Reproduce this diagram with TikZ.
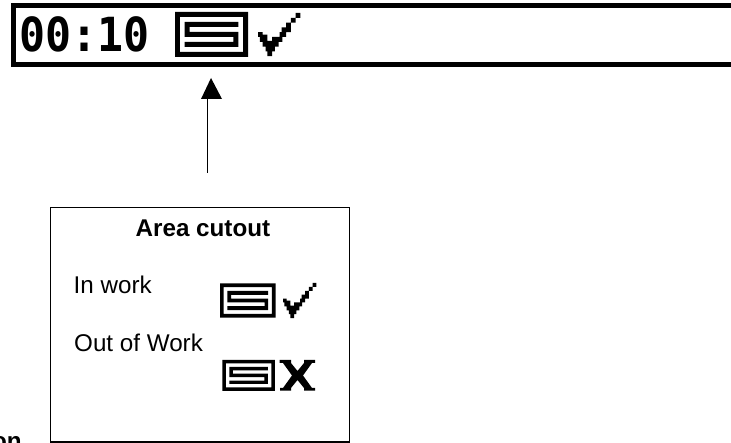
\documentclass[tikz,border=0pt]{standalone}
\usepackage{fontspec}
\setmainfont{Liberation Sans}
\newfontfamily\lcdfont{DejaVu Sans Mono}[FakeStretch=0.92]

\tikzset{
  label/.style={anchor=base west,inner sep=0pt,font=\fontsize{24.2}{26}\selectfont},
  boldlabel/.style={label,font=\fontsize{24.2}{26}\selectfont\bfseries},
  lcdtext/.style={anchor=base west,inner sep=0pt,font=\fontsize{47}{50}\lcdfont\bfseries}
}

% frame and S-shaped loop on a 15 by 9 grid
\newcommand{\cutouticon}[4]{
  \begin{scope}[shift={(#1,#2)},xscale=#3,yscale=#4]
  \fill[even odd rule] (0,0) rectangle (15,9) (1,1) rectangle (14,8);
  \fill (2,2) -- (13,2) -- (13,3) -- (3,3) -- (3,4) -- (13,4) -- (13,7)
    -- (2,7) -- (2,6) -- (12,6) -- (12,5) -- (2,5) -- cycle;
  \end{scope}
}

% stepped tick on a 9 by 9 grid
\newcommand{\tickicon}[4]{
  \begin{scope}[shift={(#1,#2)},xscale=#3,yscale=#4]
  \fill (8,0) -- (9,0) -- (9,1) -- (8,1) -- (8,2) -- (7,2) -- (7,4) -- (6,4)
    -- (6,5) -- (5.2,5) -- (5.2,6) -- (4.4,6) -- (4.4,7) -- (3.6,7) -- (3.6,8)
    -- (3,8) -- (3,9) -- (2,9) -- (2,8) -- (1.6,8) -- (1.6,7) -- (1,7) -- (1,6)
    -- (0.4,6) -- (0.4,5) -- (0,5) -- (0,4) -- (1,4) -- (1,4.5) -- (2,4.5)
    -- (2,5.8) -- (3,5.8) -- (3,5) -- (4.6,5) -- (4.6,4) -- (5,4) -- (5,3)
    -- (6,3) -- (6,2) -- (7,2) -- (7,1) -- (8,1) -- cycle;
  \end{scope}
}

\begin{document}
\begin{tikzpicture}[x=1pt,y=-1pt]

    \useasboundingbox (0,0) rectangle (731,443);

    %display bar
    \draw[line width=5.3pt] (731,5.5) -- (13.5,5.5) -- (13.5,64.5) -- (731,64.5);
    \node[lcdtext] (clock) at (19.5,52) {00:10};
    \cutouticon{175}{12}{4.87}{5}
    \tickicon{258}{13}{4.7}{4.8}

    %box with the legend
    \node[draw,line width=1.5pt,minimum width=299pt,minimum height=234.5pt] (legend) at (200,324.7) {};
    \node[boldlabel] (title) at (135.5,236.7) {Area cutout};
    \node[label] (inwork) at (73.5,294) {In work};
    \node[label] (outwork) at (74,351.7) {Out of Work};

    %in work icon
    \cutouticon{220}{283.3}{3.71}{3.82}
    \tickicon{283}{283}{3.7}{3.9}

    %out of work icon
    \cutouticon{222.3}{360}{3.5}{3.42}
    \fill (279.5,360) -- (291,360) -- (291,363) -- (297.5,371) -- (304,363)
      -- (304,360) -- (315,360) -- (315,363) -- (312,363) -- (303,375.5) -- (312,388)
      -- (315,388) -- (315,390.7) -- (304,390.7) -- (304,388) -- (297.5,380) -- (291,388)
      -- (291,390.7) -- (280,390.7) -- (280,388) -- (283,388) -- (292,375.5) -- (283,363)
      -- (279.5,363) -- cycle;

    %arrow up to the display
    \coordinate (stemfoot) at (207.3,173);
    \coordinate (stemhead) at (207.3,98);
    \draw[line width=1pt] (stemfoot) -- (stemhead);
    \fill (211,78) -- (222,99) -- (201,99) -- cycle;

    %cut off at the page edge
    \node[boldlabel] (cutword) at (-8,449.5) {on};

\end{tikzpicture}
\end{document}
